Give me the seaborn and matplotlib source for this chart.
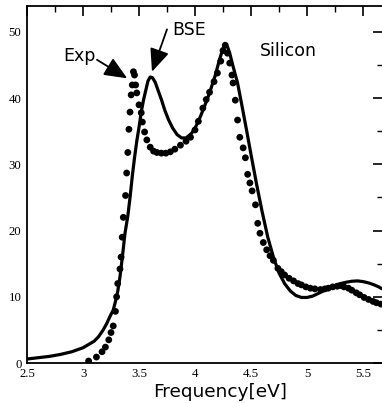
import matplotlib
matplotlib.use("Agg")
import matplotlib.pyplot as plt
import seaborn as sns
import pandas as pd
from matplotlib.ticker import MultipleLocator

# BSE (solid line)
bse_energy = [2.50, 2.60, 2.70, 2.80, 2.90, 2.95, 3.00, 3.05, 3.10, 3.14, 3.18, 3.21,
              3.24, 3.27, 3.29, 3.31, 3.33, 3.35, 3.375, 3.40, 3.42, 3.44, 3.46, 3.48,
              3.50, 3.52, 3.54, 3.555, 3.58, 3.60, 3.62, 3.645, 3.67, 3.70, 3.73, 3.765,
              3.80, 3.84, 3.88, 3.92, 3.97, 4.01, 4.05, 4.09, 4.13, 4.18, 4.22, 4.25,
              4.27, 4.29, 4.31, 4.34, 4.38, 4.42, 4.46, 4.50, 4.55, 4.60, 4.65, 4.70,
              4.75, 4.80, 4.85, 4.90, 4.95, 5.00, 5.05, 5.10, 5.15, 5.20, 5.25, 5.30,
              5.35, 5.40, 5.45, 5.50, 5.55, 5.60, 5.64, 5.67]
bse_eps2 = [0.6, 0.8, 1.0, 1.3, 1.7, 2.0, 2.3, 2.8, 3.3, 4.0, 5.0, 5.9,
            7.0, 8.0, 9.3, 10.8, 13.0, 15.8, 19.6, 22.2, 25.0, 28.2, 31.0, 33.5,
            35.6, 37.9, 39.7, 40.8, 42.6, 43.2, 43.1, 42.4, 41.2, 39.8, 38.2, 36.7,
            35.5, 34.5, 34.0, 34.0, 34.7, 35.8, 37.3, 39.0, 40.8, 43.4, 45.9, 47.5,
            48.0, 47.8, 46.8, 44.8, 42.3, 38.8, 35.2, 31.5, 27.0, 22.8, 19.0, 16.0,
            13.6, 12.0, 10.9, 10.2, 9.9, 9.9, 10.1, 10.5, 10.9, 11.3, 11.7, 12.0,
            12.2, 12.35, 12.4, 12.3, 12.1, 11.8, 11.5, 11.2]

# Experiment (dots)
exp_energy = [3.05, 3.12, 3.17, 3.20, 3.23, 3.25, 3.27, 3.29, 3.30, 3.31, 3.33, 3.34,
              3.35, 3.36, 3.38, 3.39, 3.40, 3.41, 3.42, 3.43, 3.44, 3.45, 3.46, 3.47,
              3.48, 3.50, 3.52, 3.53, 3.55, 3.57, 3.60, 3.63, 3.66, 3.70, 3.74, 3.78,
              3.82, 3.87, 3.92, 3.96, 4.00, 4.03, 4.07, 4.10, 4.13, 4.17, 4.20, 4.23,
              4.25, 4.27, 4.29, 4.31, 4.33, 4.34, 4.36, 4.38, 4.40, 4.43, 4.45, 4.47,
              4.49, 4.51, 4.54, 4.56, 4.58, 4.61, 4.64, 4.67, 4.70, 4.74, 4.77, 4.80,
              4.84, 4.88, 4.92, 4.95, 4.99, 5.03, 5.07, 5.12, 5.16, 5.19, 5.23, 5.27,
              5.30, 5.33, 5.37, 5.40, 5.44, 5.47, 5.51, 5.55, 5.59, 5.62, 5.66]
exp_eps2 = [0.3, 0.9, 1.7, 2.4, 3.5, 4.6, 5.6, 7.8, 10.0, 12.0, 14.2, 16.0,
            19.0, 22.0, 25.3, 28.7, 31.8, 35.3, 37.9, 40.5, 42.0, 44.0, 43.5, 42.0,
            40.8, 39.0, 37.8, 36.4, 34.9, 33.7, 32.6, 32.0, 31.8, 31.7, 31.7, 31.9,
            32.3, 32.9, 33.5, 34.1, 35.2, 36.5, 38.5, 39.8, 40.9, 42.5, 43.8, 45.6,
            47.2, 48.0, 46.8, 45.3, 43.5, 42.3, 39.7, 36.7, 34.1, 32.5, 31.0, 28.5,
            27.2, 26.0, 23.9, 21.1, 19.6, 18.2, 17.1, 16.2, 15.5, 14.3, 13.8, 13.3,
            12.8, 12.4, 12.0, 11.8, 11.5, 11.3, 11.2, 11.1, 11.2, 11.3, 11.5, 11.6,
            11.7, 11.5, 11.3, 11.0, 10.6, 10.3, 9.9, 9.6, 9.3, 9.1, 8.9]

x_ticks = [2.5, 3, 3.5, 4, 4.5, 5, 5.5]
x_tick_labels = ["2.5", "3", "3.5", "4", "4.5", "5", "5.5"]
y_ticks = [0, 10, 20, 30, 40, 50]
y_tick_labels = ["0", "10", "20", "30", "40", "50"]

sns.set_style("white")
plt.rcParams['font.family'] = ['DejaVu Sans']

W, H = 382, 403
fig = plt.figure(figsize=(W / 100, H / 100), dpi=100)
left, right, top, bottom = 27, 383, 6, 363
ax = fig.add_axes([left / W, (H - bottom) / H, (right - left) / W, (bottom - top) / H])

bse_df = pd.DataFrame({"E": bse_energy, "eps2": bse_eps2})
exp_df = pd.DataFrame({"E": exp_energy, "eps2": exp_eps2})

sns.lineplot(data=bse_df, x="E", y="eps2", ax=ax, color="black", linewidth=2.3,
             sort=False, estimator=None)
sns.scatterplot(data=exp_df, x="E", y="eps2", ax=ax, color="black", s=24,
                edgecolor="none", zorder=3)

ax.set_xlim(2.5, 2.5 + (right - left) / 112.0)
ax.set_ylim(0, (bottom - top) / 6.62)

ax.set_xticks(x_ticks)
ax.set_xticklabels(x_tick_labels, family="Liberation Serif", fontsize=9.2)
ax.set_yticks(y_ticks)
ax.set_yticklabels(y_tick_labels, family="Liberation Serif", fontsize=9.2)
ax.xaxis.set_minor_locator(MultipleLocator(0.25))
ax.yaxis.set_minor_locator(MultipleLocator(5))
ax.tick_params(which="major", direction="in", length=7, width=1.2, top=True, right=True,
               color="black", labelcolor="black")
ax.tick_params(which="minor", direction="in", length=4, width=1.0, top=True, right=True,
               color="black")
ax.tick_params(axis="x", which="major", pad=3.5)
ax.tick_params(axis="y", which="major", pad=4)

for s in ["left", "bottom", "top"]:
    ax.spines[s].set_color("black")
    ax.spines[s].set_linewidth(1.3)
ax.spines["right"].set_visible(False)

ax.set_ylabel("")
ax.set_xlabel("Frequency[eV]", fontsize=13.3, color="black")
ax.xaxis.set_label_coords((220 - left) / (right - left), -0.057)

arrow_kw = dict(arrowstyle="-|>,head_length=0.7,head_width=0.3", color="black",
                lw=1.3, shrinkA=0, shrinkB=0, mutation_scale=20)
ax.text(2.82, 46.3, "Exp", fontsize=12.5, va="center", ha="left", color="black")
ax.annotate("", xy=(3.395, 43.0), xytext=(3.125, 45.8), arrowprops=arrow_kw)
ax.text(3.80, 50.3, "BSE", fontsize=12.5, va="center", ha="left", color="black")
ax.annotate("", xy=(3.616, 44.0), xytext=(3.75, 50.4), arrowprops=arrow_kw)
ax.text(4.58, 47.1, "Silicon", fontsize=12.5, va="center", ha="left", color="black")

fig.savefig("out.png", dpi=100)
